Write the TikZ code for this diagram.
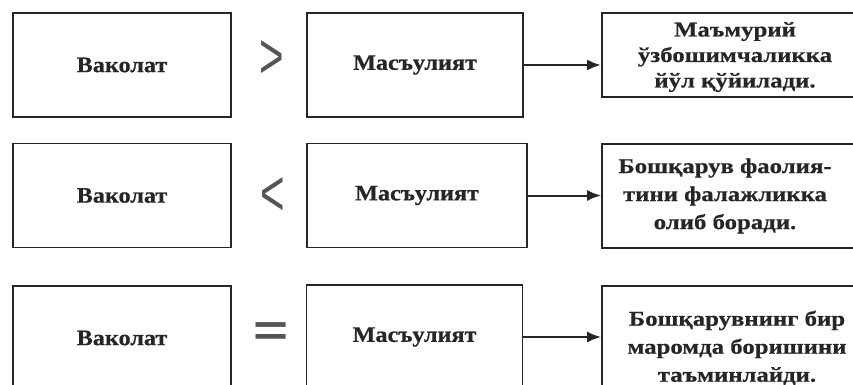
\documentclass[tikz,border=0pt]{standalone}
\usepackage{fontspec}
\setmainfont{Liberation Serif}
\newfontfamily\lfont{Liberation Serif Bold}[FakeStretch=1.1, FakeBold=0.6]
\newfontfamily\rfont{Liberation Serif Bold}[FakeStretch=1.18, FakeBold=0.6]
\newfontfamily\symfont{Liberation Sans}
\newfontfamily\symbfont{Liberation Sans Bold}
\usetikzlibrary{arrows.meta}
\definecolor{ink}{HTML}{262626}
\definecolor{symgray}{HTML}{555555}
\begin{document}
\begin{tikzpicture}[x=1pt,y=-1pt,
  frame/.style={draw=ink, line width=1.8pt, inner sep=0pt, text=ink},
  lbox/.style={frame, minimum width=218pt, minimum height=104pt, font=\lfont\fontsize{22}{25}\selectfont},
  mbox/.style={frame, minimum width=216pt, minimum height=104pt, font=\lfont\fontsize{22}{25}\selectfont},
  rbox/.style={frame, minimum width=258pt},
  rtext/.style={inner sep=0pt, text=ink, align=center, font=\rfont\fontsize{21}{28}\selectfont},
  rel/.style={text=symgray, inner sep=0pt, font=\symfont\fontsize{42}{42}\selectfont},
  arr/.style={draw=ink, line width=2pt, -{Latex[length=14pt,width=11pt]}}
]
\useasboundingbox (0,0) rectangle (853,385);
% row 1
\node[lbox] (a1) at (122,65) {Ваколат};
\node[mbox] (b1) at (415,65) {Масъулият};
\node[rbox, minimum height=84pt] (c1) at (731,55) {};
\node[rtext, font=\rfont\fontsize{21}{25.5}\selectfont] (t1) at (735,57) {Маъмурий\\ ўзбошимчаликка\\ йўл қўйилади.};
\node[rel] (s1) at (272,60) {\scalebox{1}[1.55]{>}};
\draw[arr, line width=2.6pt] (b1.east) -- (b1.east -| c1.west);
% row 2
\node[lbox] (a2) at (122,195.5) {Ваколат};
\node[mbox, minimum width=220pt] (b2) at (417,195.5) {Масъулият};
\node[rbox, minimum height=104pt] (c2) at (731,196) {};
\node[rtext] (t2) at (725,196) {Бошқарув фаолия-\\ тини фалажликка\\ олиб боради.};
\node[rel] (s2) at (273,197) {\scalebox{1}[1.55]{<}};
\draw[arr] (b2.east) -- (b2.east -| c2.west);
% row 3
\node[lbox] (a3) at (122,338) {Ваколат};
\node[mbox] (b3) at (414.5,337) {Масъулият};
\node[rbox, minimum height=124pt] (c3) at (731,348) {};
\node[rtext] (t3) at (737,348) {Бошқарувнинг бир\\ маромда боришини\\ таъминлайди.};
\node[rel, font=\symbfont\fontsize{40}{40}\selectfont] (s3) at (271,334) {\scalebox{1.5}[1.1]{=}};
\draw[arr] (b3.east) -- (b3.east -| c3.west);
\end{tikzpicture}
\end{document}
